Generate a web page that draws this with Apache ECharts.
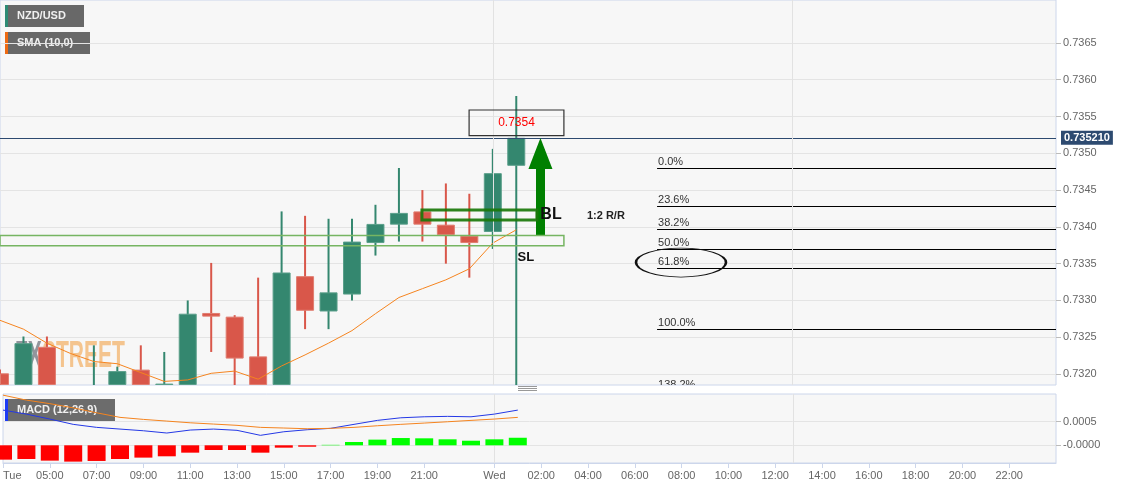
<!DOCTYPE html>
<html><head><meta charset="utf-8">
<script src="https://cdn.jsdelivr.net/npm/echarts@6/dist/echarts.min.js"></script>
<style>html,body{margin:0;padding:0;background:#fff}#c{width:1133px;height:489px}</style>
</head><body><div id="c"></div>
<script>
// ---- data (hourly candles, Tue 03:00 .. Wed 01:00) ----
const candleTimes = ['Tue 03:00','Tue 04:00','Tue 05:00','Tue 06:00','Tue 07:00','Tue 08:00','Tue 09:00','Tue 10:00','Tue 11:00','Tue 12:00','Tue 13:00','Tue 14:00','Tue 15:00','Tue 16:00','Tue 17:00','Tue 18:00','Tue 19:00','Tue 20:00','Tue 21:00','Tue 22:00','Tue 23:00','Wed 00:00','Wed 01:00'];
const openP  = [0.73201,0.73175,0.73237,0.73178,0.73160,0.73180,0.73206,0.73175,0.73180,0.73283,0.73278,0.73224,0.73180,0.73333,0.73285,0.73308,0.73378,0.73403,0.73421,0.73403,0.73388,0.73393,0.73483];
const highP  = [0.73206,0.73251,0.73251,0.73183,0.73239,0.73210,0.73239,0.73230,0.73300,0.73351,0.73280,0.73331,0.73421,0.73415,0.73411,0.73411,0.73430,0.73480,0.73450,0.73459,0.73445,0.73506,0.73578];
const lowP   = [0.73160,0.73165,0.73170,0.73150,0.73150,0.73170,0.73165,0.73165,0.73175,0.73230,0.73175,0.73165,0.73170,0.73261,0.73261,0.73300,0.73361,0.73380,0.73380,0.73350,0.73331,0.73370,0.73170];
const closeP = [0.73172,0.73242,0.73178,0.73160,0.73180,0.73204,0.73175,0.73187,0.73282,0.73278,0.73221,0.73180,0.73338,0.73286,0.73311,0.73380,0.73404,0.73419,0.73403,0.73389,0.73378,0.73473,0.73521];
const sma10  = [0.73273,0.73261,0.73242,0.73228,0.73217,0.73214,0.73202,0.73190,0.73192,0.73201,0.73204,0.73193,0.73211,0.73226,0.73242,0.73259,0.73282,0.73304,0.73316,0.73328,0.73343,0.73378,0.73396];
const macdLine   = [0.000746,0.000661,0.000556,0.000444,0.000380,0.000344,0.000308,0.000260,0.000323,0.000344,0.000317,0.000211,0.000287,0.000330,0.000359,0.000444,0.000528,0.000583,0.000604,0.000613,0.000604,0.000661,0.000746];
const signalLine = [0.001063,0.000957,0.000883,0.000794,0.000689,0.000592,0.000549,0.000513,0.000477,0.000450,0.000423,0.000380,0.000366,0.000351,0.000359,0.000380,0.000414,0.000444,0.000471,0.000499,0.000528,0.000556,0.000592];
const macdHist   = [-0.000304,-0.000290,-0.000325,-0.000346,-0.000332,-0.000290,-0.000261,-0.000233,-0.000156,-0.000100,-0.000100,-0.000156,-0.000050,-0.000030,0.000010,0.000070,0.000120,0.000154,0.000148,0.000127,0.000097,0.000127,0.000160];
const lastPrice = 0.735210;

// axis ticks (x in hours from Tue 03:00)
const xTickHours  = [0,2,4,6,8,10,12,14,16,18,21,23,25,27,29,31,33,35,37,39,41,43];
const xTickLabels = ['Tue','05:00','07:00','09:00','11:00','13:00','15:00','17:00','19:00','21:00','Wed','02:00','04:00','06:00','08:00','10:00','12:00','14:00','16:00','18:00','20:00','22:00'];
const priceTicks  = [0.7320,0.7325,0.7330,0.7335,0.7340,0.7345,0.7350,0.7355,0.7360,0.7365];
const priceTickLabels = ['0.7320','0.7325','0.7330','0.7335','0.7340','0.7345','0.7350','0.7355','0.7360','0.7365'];
const macdTicks = [0, 0.0005];
const macdTickLabels = ['-0.0000','0.0005'];
const dayLines = [21, 33.75];

// annotations (data coords: [hour, price])
const fibLevels = [0.73480,0.73428,0.73397,0.73369,0.73344,0.73261,0.73176];
const fibLabels = ['0.0%','23.6%','38.2%','50.0%','61.8%','100.0%','138.2%'];
const fibSpan = [28.0, 45];
const targetBox = [[19.99,0.735588],[24.03,0.735241]];
const targetText = '0.7354';
const blBox = [[17.98,0.734229],[22.88,0.734093]];
const slBox = [[0,0.733882],[24.03,0.733744]];
const arrowShaft = [[23.03,0.733889],[23.03,0.73505]];
const arrowHead = [23.03,0.734996];
const fibRing = [29.02,0.733515];
const textNotes = [
  {text:'BL', at:[23.48,0.734168]},
  {text:'1:2 R/R', at:[25.82,0.734147]},
  {text:'SL', at:[22.41,0.73359]}
];

const FONT = '"Liberation Sans", Arial, Helvetica, sans-serif';
const UP = '#34876f', DOWN = '#d9574a';
const chart = echarts.init(document.getElementById('c'), null, {renderer:'canvas'});

const noteStyles = {
  'BL': {fontSize:16, fontWeight:'bold', color:'#111'},
  '1:2 R/R': {fontSize:11, fontWeight:'bold', color:'#222'},
  'SL': {fontSize:13, fontWeight:'bold', color:'#111'}
};

const mkLines = [
  [{coord:[0,lastPrice], lineStyle:{color:'#2d4a70', width:1, type:'solid'},
    label:{show:true, position:'end', formatter:lastPrice.toFixed(6), color:'#fff', fontWeight:'bold', fontSize:11, fontFamily:FONT, backgroundColor:'#2d4a70', padding:[2,3,1,3], distance:5}},
   {coord:[45,lastPrice]}],
  ...fibLevels.map((lv,i)=>[
    {coord:[fibSpan[0],lv], lineStyle:{color:'#000', width:1, type:'solid'},
     label:{show:i < fibLevels.length - 1, position:'insideStartTop', formatter:fibLabels[i], color:'#333', fontSize:11, fontFamily:FONT, distance:1}},
    {coord:[fibSpan[1],lv]}
  ]),
  [{coord:arrowShaft[0], lineStyle:{color:'#008000', width:9, type:'solid', opacity:1}, label:{show:false}}, {coord:arrowShaft[1]}],
  ...dayLines.map(d=>({xAxis:d, lineStyle:{color:'#e2e2e2', width:1, type:'solid'}, label:{show:false}}))
];

function renderCandle(params, api) {
  const x = api.value(0), o = api.value(1), c = api.value(2), l = api.value(3), h = api.value(4);
  const pO = api.coord([x, o]), pC = api.coord([x, c]), pL = api.coord([x, l]), pH = api.coord([x, h]);
  const w = 18;
  const up = c >= o;
  const col = up ? UP : DOWN;
  const edge = up ? '#5a9f8a' : '#e07d70';
  const cs = params.coordSys;
  const area = {x: cs.x, y: cs.y, width: cs.width, height: cs.height};
  const top = Math.min(pO[1], pC[1]);
  const body = echarts.graphic.clipRectByRect({x: pO[0] - w / 2, y: top, width: w, height: Math.max(Math.abs(pO[1] - pC[1]), 1)}, area);
  const wick = echarts.graphic.clipPointsByRect([pH, pL], area);
  const children = [];
  if (wick && Math.abs(wick[1][1] - wick[0][1]) > 0) {
    children.push({type:'line', shape:{x1:wick[0][0], y1:wick[0][1], x2:wick[1][0], y2:wick[1][1]}, style:{stroke:col, lineWidth:2}});
  }
  if (body && body.height > 0 && body.width > 0) {
    children.push({type:'rect', shape:{x:body.x + 0.5, y:body.y + 0.5, width:body.width - 1, height:Math.max(body.height - 1, 0.5)}, style:{fill:col, stroke:edge, lineWidth:1}});
  }
  return {type:'group', children};
}

// fib label that sits at the bottom edge of the price panel (clipped by the grid)
function renderFibTail(params, api) {
  const idx = api.value(2);
  const p = api.coord([api.value(0), api.value(1)]);
  return {type:'text', x:p[0] + 1, y:p[1] - 1,
    style:{text:fibLabels[idx], fill:'#333', font:'11px ' + FONT, align:'left', verticalAlign:'bottom'}};
}

const option = {
  animation:false,
  backgroundColor:'#ffffff',
  textStyle:{fontFamily:FONT},
  grid:[
    {left:0, top:0, width:1056, height:385, show:true, backgroundColor:'#f7f7f7', borderColor:'#ccd6eb', borderWidth:1, containLabel:false},
    {left:0, top:394, width:1056, height:69, show:true, backgroundColor:'#f7f7f7', borderColor:'#ccd6eb', borderWidth:1, containLabel:false}
  ],
  xAxis:[
    {type:'value', gridIndex:0, min:0, max:45, axisLine:{show:false, onZero:false}, axisTick:{show:false}, axisLabel:{show:false}, splitLine:{show:false}},
    {type:'value', gridIndex:1, min:0, max:45, position:'bottom',
     axisLine:{show:true, onZero:false, lineStyle:{color:'#ccd6eb'}},
     axisTick:{show:true, customValues:xTickHours, length:5, lineStyle:{color:'#ccd6eb'}},
     axisLabel:{show:true, customValues:xTickHours, color:'#666', fontSize:11, margin:7, fontFamily:FONT, alignMinLabel:'left',
       formatter:(v)=>{const i=xTickHours.indexOf(v); return i>=0?xTickLabels[i]:'';}},
     splitLine:{show:false}}
  ],
  yAxis:[
    {type:'value', gridIndex:0, position:'right', min:0.731851, max:0.737083, scale:true,
     axisLine:{show:false, onZero:false}, axisTick:{show:true, customValues:priceTicks, length:5, lineStyle:{color:'#bbb'}},
     axisLabel:{show:true, customValues:priceTicks, color:'#666', fontSize:11, margin:7, fontFamily:FONT,
       formatter:(v)=>{const i=priceTicks.indexOf(v); return i>=0?priceTickLabels[i]:'';}},
     splitLine:{show:true, lineStyle:{color:'#e4e4e4', width:1}}},
    {type:'value', gridIndex:1, position:'right', min:-0.000375, max:0.001087,
     axisLine:{show:false, onZero:false}, axisTick:{show:true, customValues:macdTicks, length:5, lineStyle:{color:'#bbb'}},
     axisLabel:{show:true, customValues:macdTicks, color:'#666', fontSize:11, margin:7, fontFamily:FONT,
       formatter:(v)=>{const i=macdTicks.indexOf(v); return i>=0?macdTickLabels[i]:'';}},
     splitLine:{show:true, lineStyle:{color:'#e4e4e4', width:1}}}
  ],
  series:[
    {type:'custom', name:'NZD/USD', xAxisIndex:0, yAxisIndex:0, z:3, clip:true,
     data:candleTimes.map((t,i)=>[i, openP[i], closeP[i], lowP[i], highP[i]]),
     encode:{x:0, y:[1,2,3,4]},
     renderItem:renderCandle},
    {type:'custom', name:'fib-tail', xAxisIndex:0, yAxisIndex:0, z:5, clip:true, silent:true,
     data:[[fibSpan[0], fibLevels[fibLevels.length - 1], fibLevels.length - 1]],
     encode:{x:0, y:1},
     renderItem:renderFibTail},
    {type:'line', name:'SMA (10,0)', xAxisIndex:0, yAxisIndex:0, z:4,
     data:sma10.map((v,i)=>[i,v]), showSymbol:false, symbol:'none',
     lineStyle:{color:'#f5841f', width:1},
     markArea:{silent:true, z:6, data:[
       [{coord:targetBox[0], itemStyle:{color:'rgba(0,0,0,0)', borderColor:'#333', borderWidth:1.2},
         label:{show:true, position:'inside', formatter:targetText, color:'#ff0000', fontSize:12, fontFamily:FONT}}, {coord:targetBox[1]}],
       [{coord:blBox[0], itemStyle:{color:'rgba(0,0,0,0)', borderColor:'rgba(26,120,10,0.92)', borderWidth:3}, label:{show:false}}, {coord:blBox[1]}],
       [{coord:slBox[0], itemStyle:{color:'rgba(0,0,0,0)', borderColor:'#76b562', borderWidth:1.5}, label:{show:false}}, {coord:slBox[1]}]
     ]},
     markLine:{silent:true, symbol:'none', z:5, data:mkLines},
     markPoint:{silent:true, z:7, data:[
       {coord:arrowHead, symbol:'triangle', symbolSize:[24,31], itemStyle:{color:'#008000'}, label:{show:false}},
       {coord:fibRing, symbol:'circle', symbolSize:[90,29], itemStyle:{color:'rgba(0,0,0,0)', borderColor:'#111', borderWidth:1.5}, label:{show:false}},
       ...textNotes.map(n=>({coord:n.at, symbol:'circle', symbolSize:1, itemStyle:{color:'rgba(0,0,0,0)'},
         label:Object.assign({show:true, position:'inside', formatter:n.text, fontFamily:FONT}, noteStyles[n.text])}))
     ]}},
    {type:'bar', name:'Histogram', xAxisIndex:1, yAxisIndex:1, z:3,
     data:macdHist.map((v,i)=>({value:[i,v], itemStyle:{color: v<0 ? '#ff0000' : '#00ff00'}})),
     barWidth:18,
     markLine:{silent:true, symbol:'none', z:2, data:dayLines.map(d=>({xAxis:d, lineStyle:{color:'#e2e2e2', width:1, type:'solid'}, label:{show:false}}))}},
    {type:'line', name:'MACD', xAxisIndex:1, yAxisIndex:1, z:4, data:macdLine.map((v,i)=>[i,v]), showSymbol:false, symbol:'none', lineStyle:{color:'#2438e6', width:1}},
    {type:'line', name:'Signal', xAxisIndex:1, yAxisIndex:1, z:4, data:signalLine.map((v,i)=>[i,v]), showSymbol:false, symbol:'none', lineStyle:{color:'#f5841f', width:1}}
  ],
  graphic:[
    {type:'text', x:15, y:339, z:1, scaleX:0.585, silent:true,
     style:{text:'{a|FX}{b|STREET}', rich:{
       a:{fill:'#92959c', font:'bold 36px '+FONT},
       b:{fill:'#f4c48e', font:'bold 36px '+FONT}}}},
    {type:'group', x:5, y:5, z:20, children:[
      {type:'rect', shape:{x:0,y:0,width:79,height:22}, style:{fill:'rgba(92,92,92,0.93)'}},
      {type:'rect', shape:{x:0,y:0,width:3,height:22}, style:{fill:'#2e8b74'}},
      {type:'text', x:12, y:11, style:{text:'NZD/USD', fill:'#f0f0f0', font:'bold 11px '+FONT, verticalAlign:'middle'}}
    ]},
    {type:'group', x:5, y:32, z:20, children:[
      {type:'rect', shape:{x:0,y:0,width:85,height:22}, style:{fill:'rgba(92,92,92,0.93)'}},
      {type:'rect', shape:{x:0,y:0,width:3,height:22}, style:{fill:'#ee6a12'}},
      {type:'text', x:12, y:11, style:{text:'SMA (10,0)', fill:'#f0f0f0', font:'bold 11px '+FONT, verticalAlign:'middle'}}
    ]},
    {type:'group', x:5, y:399, z:20, children:[
      {type:'rect', shape:{x:0,y:0,width:110,height:22}, style:{fill:'rgba(92,92,92,0.9)'}},
      {type:'rect', shape:{x:0,y:0,width:3,height:22}, style:{fill:'#1d3cf5'}},
      {type:'text', x:12, y:11, style:{text:'MACD (12,26,9)', fill:'#f0f0f0', font:'bold 11px '+FONT, verticalAlign:'middle'}}
    ]},
    {type:'group', x:518, y:386, z:20, children:[
      {type:'line', shape:{x1:0,y1:0.5,x2:19,y2:0.5}, style:{stroke:'#999', lineWidth:1}},
      {type:'line', shape:{x1:0,y1:2.5,x2:19,y2:2.5}, style:{stroke:'#999', lineWidth:1}},
      {type:'line', shape:{x1:0,y1:4.5,x2:19,y2:4.5}, style:{stroke:'#999', lineWidth:1}}
    ]}
  ]
};
chart.setOption(option);
</script>
</body></html>
